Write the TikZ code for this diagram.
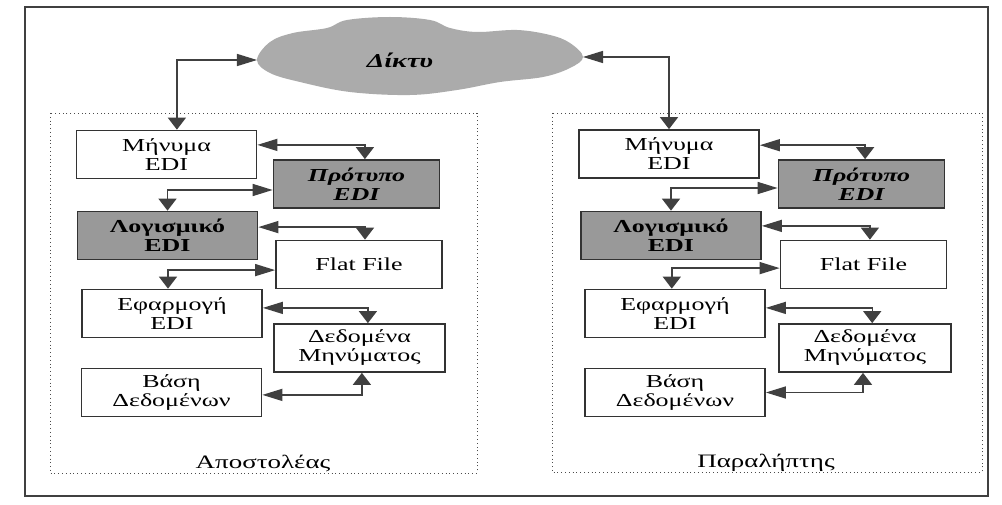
\documentclass[tikz,border=0pt]{standalone}
\usepackage{fontspec}
\usepackage{graphicx}
\setmainfont{Liberation Serif}
\usetikzlibrary{arrows.meta}
\newcommand{\widetxt}[1]{\scalebox{1.42}[1]{#1}}

\begin{document}
\begin{tikzpicture}[x=0.025cm,y=-0.025cm,
  box/.style={draw=black!80,line width=1.2pt,fill=white,align=center,inner sep=0pt,
    minimum width=4.5cm,minimum height=1.2cm,font=\fontsize{13}{13.5}\selectfont},
  boxr/.style={box,minimum width=4.15cm},
  graybox/.style={fill=black!40},
  arr/.style={draw=black!75,line width=1pt,
    {Triangle[width=0.3cm,length=0.5cm]}-{Triangle[width=0.45cm,length=0.3cm]}},
  side/.style={draw=black!70,dotted,line width=0.7pt},
  sidelbl/.style={font=\fontsize{13.5}{15}\selectfont}]
\useasboundingbox (0,0) rectangle (1002,505);
\fill[white] (0,0) rectangle (1002,505);
\draw[black!75,line width=1.2pt] (25,7) rectangle (988,496);
%\draw[step=50,gray,very thin] (0,0) grid (1000,500);

% network
\fill[black!33] plot[smooth cycle,tension=0.6] coordinates {(257,60) (270,42) (293,33)
  (327,28) (347,20) (390,17) (430,20) (450,28) (477,32) (517,30) (550,35) (570,43)
  (583,57) (570,68) (543,77) (500,82) (457,90) (410,95) (350,92) (300,82) (270,73)};
\coordinate (netW) at (257,60);
\coordinate (netE) at (583,57);
\node[font=\fontsize{14}{15}\selectfont\bfseries\itshape] (netlbl) at (400,60) {\widetxt{Δίκτυ}};

% sender
\draw[side] (50,113) rectangle (477,473);
\node[box] (msgA) at (166.5,154.5) {\widetxt{Μήνυμα}\\\widetxt{EDI}};
\node[boxr,graybox,font=\fontsize{13}{13.5}\selectfont\bfseries\itshape] (stdA) at (356.5,184) {\widetxt{Πρότυπο}\\\widetxt{EDI}};
\node[box,graybox,font=\fontsize{13}{13.5}\selectfont\bfseries] (swA) at (167.5,235.5) {\widetxt{Λογισμικό}\\\widetxt{EDI}};
\node[boxr] (flatA) at (359,264.5) {\widetxt{Flat File}};
\node[box] (appA) at (172,313.5) {\widetxt{Εφαρμογή}\\\widetxt{EDI}};
\node[boxr,minimum width=4.28cm] (dataA) at (359.5,348) {\widetxt{Δεδομένα}\\\widetxt{Μηνύματος}};
\node[box] (dbA) at (171.5,392.5) {\widetxt{Βάση}\\\widetxt{Δεδομένων}};
\node[sidelbl] (sndlbl) at (263,463) {\widetxt{Αποστολέας}};

% receiver
\draw[side] (552,113) rectangle (982,472);
\node[box] (msgB) at (669,154) {\widetxt{Μήνυμα}\\\widetxt{EDI}};
\node[boxr,graybox,font=\fontsize{13}{13.5}\selectfont\bfseries\itshape] (stdB) at (861.5,184) {\widetxt{Πρότυπο}\\\widetxt{EDI}};
\node[box,graybox,font=\fontsize{13}{13.5}\selectfont\bfseries] (swB) at (671,235.5) {\widetxt{Λογισμικό}\\\widetxt{EDI}};
\node[boxr] (flatB) at (863.5,264.5) {\widetxt{Flat File}};
\node[box] (appB) at (675,313.5) {\widetxt{Εφαρμογή}\\\widetxt{EDI}};
\node[boxr,minimum width=4.3cm] (dataB) at (865,348) {\widetxt{Δεδομένα}\\\widetxt{Μηνύματος}};
\node[box] (dbB) at (675,392.5) {\widetxt{Βάση}\\\widetxt{Δεδομένων}};
\node[sidelbl] (rcvlbl) at (766,463) {\widetxt{Παραλήπτης}};

% links
\draw[arr] (netW) -| ([xshift=0.26cm]msgA.north);
\draw[arr] (netE) -| (msgB.north);

\draw[arr] ([yshift=0.24cm]msgA.east) -| ([xshift=0.21cm]stdA.north);
\draw[arr] ([yshift=-0.15cm]stdA.west) -| (swA.north);
\draw[arr] ([yshift=0.21cm]swA.east) -| ([xshift=0.15cm]flatA.north);
\draw[arr] ([yshift=-0.14cm]flatA.west) -| ([xshift=-0.1cm]appA.north);
\draw[arr] ([yshift=0.14cm]appA.east) -| ([xshift=0.21cm]dataA.north);
\draw[arr] ([yshift=-0.06cm]dbA.east) -| ([xshift=0.06cm]dataA.south);

\draw[arr] ([yshift=0.22cm]msgB.east) -| ([xshift=0.09cm]stdB.north);
\draw[arr] ([yshift=-0.1cm]stdB.west) -| (swB.north);
\draw[arr] ([yshift=0.24cm]swB.east) -| ([xshift=0.16cm]flatB.north);
\draw[arr] ([yshift=-0.09cm]flatB.west) -| ([xshift=-0.08cm]appB.north);
\draw[arr] ([yshift=0.14cm]appB.east) -| ([xshift=0.18cm]dataB.north);
\draw[arr] (dbB.east) -| ([xshift=-0.05cm]dataB.south);
\end{tikzpicture}
\end{document}
